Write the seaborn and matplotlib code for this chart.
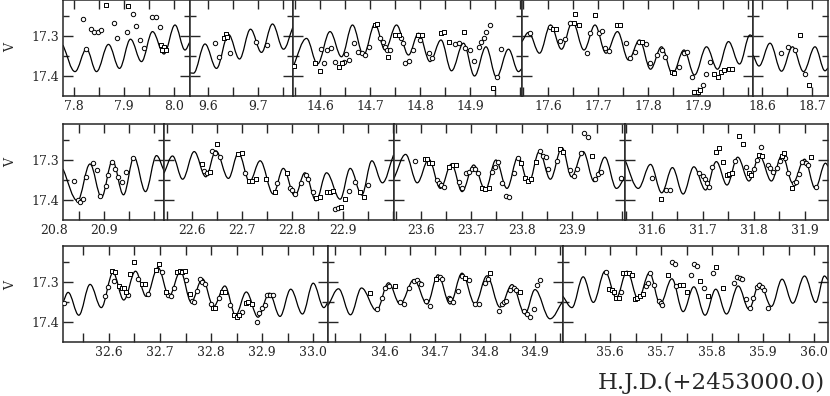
import numpy as np
import matplotlib
matplotlib.use("Agg")
import matplotlib.pyplot as plt
from matplotlib.path import Path
from matplotlib.patches import PathPatch
from matplotlib.ticker import FixedLocator, FuncFormatter
import seaborn as sns

# ---------------- data ----------------
# model light-curve extrema (time, V) per panel
curve_r1p1 = [(7.778, 17.3225), (7.802, 17.389), (7.825, 17.3325), (7.845, 17.389), (7.869, 17.321),
              (7.891, 17.381), (7.913, 17.308), (7.935, 17.364), (7.957, 17.289), (7.980, 17.345),
              (8.002, 17.2725), (8.022, 17.335), (8.032, 17.314)]
curve_r1p2 = [(9.564, 17.392), (9.571, 17.393), (9.594, 17.320), (9.617, 17.381), (9.641, 17.296),
              (9.663, 17.3575), (9.685, 17.283), (9.707, 17.341), (9.729, 17.270), (9.751, 17.333),
              (9.770, 17.277)]
curve_r1p3 = [(14.546, 17.377), (14.573, 17.306), (14.595, 17.370), (14.620, 17.289), (14.643, 17.352),
              (14.665, 17.2725), (14.687, 17.3475), (14.710, 17.270), (14.730, 17.335), (14.753, 17.2725),
              (14.777, 17.3475), (14.797, 17.293), (14.820, 17.364), (14.842, 17.310), (14.863, 17.387),
              (14.887, 17.318), (14.909, 17.400), (14.932, 17.327), (14.953, 17.403), (14.977, 17.333),
              (14.997, 17.389), (15.004, 17.381)]
curve_r1p4 = [(17.548, 17.314), (17.561, 17.291), (17.583, 17.343), (17.605, 17.2725), (17.627, 17.333),
              (17.649, 17.264), (17.672, 17.335), (17.694, 17.2725), (17.716, 17.343), (17.739, 17.289),
              (17.761, 17.360), (17.783, 17.310), (17.805, 17.383), (17.827, 17.327), (17.849, 17.395),
              (17.872, 17.335), (17.893, 17.3975), (17.917, 17.327), (17.939, 17.383), (17.961, 17.314),
              (17.983, 17.370), (18.004, 17.2975), (18.010, 17.302)]
curve_r1p5 = [(18.582, 17.3475), (18.594, 17.375), (18.616, 17.318), (18.639, 17.388), (18.661, 17.327),
              (18.683, 17.389), (18.706, 17.327), (18.726, 17.387), (18.732, 17.380)]
curve_r2p1 = [(20.818, 17.3225), (20.847, 17.402), (20.872, 17.310), (20.895, 17.393), (20.917, 17.302),
              (20.939, 17.387), (20.960, 17.293), (20.983, 17.379), (21.005, 17.289), (21.020, 17.327)]
curve_r2p2 = [(22.545, 17.333), (22.562, 17.290), (22.582, 17.348), (22.605, 17.279), (22.628, 17.342),
              (22.648, 17.277), (22.673, 17.346), (22.693, 17.282), (22.715, 17.354), (22.736, 17.302),
              (22.762, 17.385), (22.782, 17.321), (22.805, 17.390), (22.825, 17.332), (22.847, 17.402),
              (22.868, 17.332), (22.895, 17.398), (22.915, 17.321), (22.938, 17.3875), (22.958, 17.302),
              (22.979, 17.357), (23.001, 17.2875)]
curve_r2p3 = [(23.547, 17.346), (23.570, 17.286), (23.593, 17.357), (23.616, 17.298), (23.639, 17.371),
              (23.661, 17.310), (23.682, 17.379), (23.705, 17.3125), (23.728, 17.375), (23.749, 17.300),
              (23.771, 17.371), (23.793, 17.292), (23.814, 17.358), (23.835, 17.279), (23.857, 17.348),
              (23.880, 17.269), (23.899, 17.342), (23.922, 17.279), (23.944, 17.354), (23.965, 17.293),
              (23.988, 17.371), (24.005, 17.342)]
curve_r2p4 = [(31.548, 17.300), (31.574, 17.371), (31.598, 17.311), (31.620, 17.382), (31.641, 17.319),
              (31.662, 17.385), (31.683, 17.317), (31.706, 17.375), (31.727, 17.304), (31.748, 17.3625),
              (31.769, 17.293), (31.791, 17.3525), (31.812, 17.290), (31.835, 17.3525), (31.856, 17.2875),
              (31.877, 17.358), (31.900, 17.298), (31.921, 17.371), (31.941, 17.308), (31.947, 17.317)]
curve_r3p1 = [(32.510, 17.351), (32.520, 17.326), (32.541, 17.383), (32.563, 17.306), (32.585, 17.364),
              (32.608, 17.277), (32.629, 17.345), (32.652, 17.273), (32.673, 17.336), (32.696, 17.264),
              (32.718, 17.335), (32.740, 17.273), (32.761, 17.350), (32.783, 17.292), (32.805, 17.361),
              (32.827, 17.310), (32.848, 17.383), (32.869, 17.325), (32.892, 17.388), (32.914, 17.328),
              (32.935, 17.386), (32.956, 17.318), (32.979, 17.380), (33.000, 17.303), (33.021, 17.364),
              (33.029, 17.350)]
curve_r3p2 = [(34.486, 17.359), (34.507, 17.317), (34.531, 17.382), (34.553, 17.315), (34.583, 17.3715),
              (34.607, 17.302), (34.630, 17.355), (34.658, 17.294), (34.684, 17.355), (34.706, 17.282),
              (34.730, 17.355), (34.754, 17.278), (34.780, 17.355), (34.804, 17.2845), (34.830, 17.363),
              (34.854, 17.3065), (34.880, 17.380), (34.900, 17.319), (34.930, 17.392), (34.956, 17.347)]
curve_r3p3 = [(35.507, 17.335), (35.525, 17.364), (35.547, 17.287), (35.567, 17.351), (35.590, 17.273),
              (35.612, 17.339), (35.633, 17.273), (35.655, 17.343), (35.677, 17.277), (35.698, 17.355),
              (35.721, 17.292), (35.743, 17.374), (35.764, 17.312), (35.786, 17.383), (35.807, 17.318),
              (35.828, 17.380), (35.851, 17.310), (35.872, 17.368), (35.893, 17.303), (35.916, 17.361),
              (35.937, 17.293), (35.958, 17.353), (35.981, 17.285), (36.003, 17.351), (36.020, 17.285),
              (36.027, 17.295)]

# observations (time, V, marker: 'o' circle / 's' square)
obs_r1p1 = [(7.817, 17.258, 'o'), (7.864, 17.222, 's'), (7.907, 17.224, 's'), (7.917, 17.245, 'o'),
            (7.955, 17.252, 'o'), (7.964, 17.252, 'o'), (7.879, 17.267, 'o'), (7.834, 17.283, 'o'),
            (7.840, 17.289, 'o'), (7.847, 17.289, 'o'), (7.853, 17.285, 'o'), (7.905, 17.289, 'o'),
            (7.924, 17.275, 'o'), (7.885, 17.306, 'o'), (7.932, 17.310, 'o'), (7.939, 17.331, 'o'),
            (7.971, 17.278, 'o'), (7.974, 17.3225, 's'), (7.979, 17.328, 's'), (7.975, 17.335, 's'),
            (7.983, 17.335, 's'), (7.824, 17.332, 'o')]
obs_r1p2 = [(9.614, 17.318, 'o'), (9.621, 17.353, 'o'), (9.631, 17.306, 's'), (9.636, 17.296, 's'),
            (9.639, 17.303, 's'), (9.644, 17.343, 'o'), (9.697, 17.314, 'o'), (9.717, 17.3225, 'o')]
obs_r1p3 = [(14.548, 17.375, 's'), (14.590, 17.368, 's'), (14.600, 17.387, 's'), (14.607, 17.368, 'o'),
            (14.602, 17.3325, 'o'), (14.613, 17.335, 'o'), (14.622, 17.331, 'o'), (14.630, 17.364, 'o'),
            (14.638, 17.377, 's'), (14.643, 17.368, 's'), (14.648, 17.364, 'o'), (14.658, 17.360, 'o'),
            (14.652, 17.345, 'o'), (14.667, 17.317, 'o'), (14.675, 17.339, 'o'), (14.683, 17.342, 'o'),
            (14.690, 17.3475, 'o'), (14.697, 17.327, 'o'), (14.709, 17.2725, 's'), (14.713, 17.270, 's'),
            (14.720, 17.306, 'o'), (14.725, 17.314, 'o'), (14.730, 17.327, 'o'), (14.733, 17.335, 'o'),
            (14.740, 17.335, 'o'), (14.735, 17.352, 's'), (14.750, 17.2975, 's'), (14.757, 17.2975, 's'),
            (14.761, 17.306, 'o'), (14.765, 17.317, 'o'), (14.770, 17.368, 'o'), (14.777, 17.362, 'o'),
            (14.785, 17.335, 'o'), (14.795, 17.2975, 's'), (14.803, 17.2975, 's'), (14.800, 17.310, 'o'),
            (14.817, 17.343, 'o'), (14.823, 17.356, 'o'), (14.842, 17.293, 's'), (14.847, 17.291, 's'),
            (14.857, 17.314, 's'), (14.870, 17.320, 'o'), (14.877, 17.317, 'o'), (14.887, 17.289, 's'),
            (14.890, 17.331, 'o'), (14.900, 17.335, 'o'), (14.908, 17.362, 'o'), (14.917, 17.327, 'o'),
            (14.922, 17.314, 'o'), (14.928, 17.306, 'o'), (14.932, 17.289, 'o'), (14.939, 17.2725, 'o'),
            (14.953, 17.402, 'o'), (14.945, 17.431, 's'), (14.961, 17.333, 'o')]
obs_r1p4 = [(17.563, 17.293, 'o'), (17.604, 17.277, 'o'), (17.609, 17.283, 's'), (17.615, 17.283, 's'),
            (17.624, 17.312, 'o'), (17.634, 17.308, 'o'), (17.644, 17.267, 'o'), (17.652, 17.268, 's'),
            (17.661, 17.2725, 's'), (17.654, 17.245, 's'), (17.694, 17.2475, 's'), (17.677, 17.343, 'o'),
            (17.684, 17.293, 'o'), (17.701, 17.293, 'o'), (17.707, 17.287, 'o'), (17.714, 17.331, 'o'),
            (17.721, 17.337, 'o'), (17.737, 17.2725, 's'), (17.743, 17.2725, 's'), (17.756, 17.317, 'o'),
            (17.763, 17.356, 'o'), (17.774, 17.339, 'o'), (17.781, 17.314, 'o'), (17.787, 17.314, 's'),
            (17.796, 17.321, 'o'), (17.804, 17.367, 'o'), (17.817, 17.3475, 'o'), (17.827, 17.335, 'o'),
            (17.834, 17.352, 'o'), (17.847, 17.389, 's'), (17.852, 17.392, 's'), (17.861, 17.377, 'o'),
            (17.871, 17.343, 'o'), (17.877, 17.339, 'o'), (17.887, 17.403, 'o'), (17.892, 17.439, 's'),
            (17.899, 17.439, 's'), (17.904, 17.435, 's'), (17.909, 17.4225, 'o'), (17.924, 17.364, 'o'),
            (17.916, 17.395, 'o'), (17.932, 17.395, 's'), (17.939, 17.402, 's'), (17.945, 17.389, 's'),
            (17.952, 17.385, 's'), (17.961, 17.383, 's'), (17.967, 17.383, 's')]
obs_r1p5 = [(18.675, 17.2975, 's'), (18.637, 17.342, 'o'), (18.651, 17.328, 'o'), (18.666, 17.335, 'o'),
            (18.686, 17.395, 'o'), (18.693, 17.4225, 's')]
obs_r2p1 = [(20.840, 17.352, 'o'), (20.847, 17.399, 'o'), (20.852, 17.404, 'o'), (20.857, 17.3975, 'o'),
            (20.864, 17.343, 'o'), (20.877, 17.308, 'o'), (20.885, 17.325, 'o'), (20.892, 17.389, 'o'),
            (20.904, 17.364, 'o'), (20.907, 17.3375, 'o'), (20.915, 17.304, 'o'), (20.922, 17.3225, 'o'),
            (20.927, 17.343, 'o'), (20.935, 17.356, 'o'), (20.944, 17.331, 'o'), (20.957, 17.296, 'o')]
obs_r2p2 = [(22.620, 17.311, 's'), (22.625, 17.327, 'o'), (22.630, 17.333, 'o'), (22.636, 17.329, 's'),
            (22.641, 17.277, 'o'), (22.646, 17.283, 'o'), (22.650, 17.260, 's'), (22.656, 17.293, 'o'),
            (22.693, 17.285, 's'), (22.699, 17.282, 's'), (22.706, 17.333, 'o'), (22.713, 17.352, 's'),
            (22.719, 17.3525, 's'), (22.728, 17.348, 's'), (22.748, 17.348, 's'), (22.766, 17.379, 's'),
            (22.770, 17.358, 'o'), (22.789, 17.333, 's'), (22.795, 17.371, 'o'), (22.800, 17.375, 'o'),
            (22.805, 17.385, 'o'), (22.817, 17.358, 'o'), (22.827, 17.3375, 'o'), (22.832, 17.348, 'o'),
            (22.842, 17.379, 'o'), (22.848, 17.396, 's'), (22.855, 17.392, 's'), (22.868, 17.379, 's'),
            (22.875, 17.379, 's'), (22.880, 17.377, 's'), (22.885, 17.423, 'o'), (22.891, 17.421, 'o'),
            (22.896, 17.418, 's'), (22.905, 17.398, 's'), (22.913, 17.377, 'o'), (22.925, 17.354, 'o'),
            (22.934, 17.379, 's'), (22.942, 17.393, 's'), (22.951, 17.3625, 'o')]
obs_r2p3 = [(23.589, 17.302, 'o'), (23.609, 17.298, 's'), (23.613, 17.298, 's'), (23.616, 17.308, 's'),
            (23.622, 17.308, 's'), (23.633, 17.350, 'o'), (23.636, 17.358, 'o'), (23.641, 17.3625, 'o'),
            (23.647, 17.367, 'o'), (23.657, 17.317, 's'), (23.664, 17.3125, 's'), (23.669, 17.3125, 's'),
            (23.676, 17.354, 'o'), (23.681, 17.371, 'o'), (23.690, 17.333, 'o'), (23.695, 17.329, 'o'),
            (23.701, 17.323, 'o'), (23.707, 17.323, 'o'), (23.713, 17.333, 'o'), (23.722, 17.371, 's'),
            (23.728, 17.3725, 's'), (23.735, 17.371, 's'), (23.741, 17.329, 'o'), (23.748, 17.317, 'o'),
            (23.753, 17.304, 'o'), (23.761, 17.358, 'o'), (23.769, 17.390, 'o'), (23.776, 17.393, 'o'),
            (23.784, 17.333, 'o'), (23.793, 17.296, 'o'), (23.799, 17.307, 's'), (23.807, 17.346, 's'),
            (23.813, 17.352, 's'), (23.819, 17.348, 's'), (23.829, 17.304, 's'), (23.837, 17.277, 'o'),
            (23.843, 17.290, 'o'), (23.848, 17.293, 'o'), (23.852, 17.323, 'o'), (23.870, 17.302, 'o'),
            (23.876, 17.273, 's'), (23.883, 17.279, 's'), (23.896, 17.325, 'o'), (23.903, 17.340, 'o'),
            (23.909, 17.323, 'o'), (23.918, 17.283, 'o'), (23.924, 17.233, 'o'), (23.932, 17.242, 'o'),
            (23.940, 17.290, 's'), (23.945, 17.348, 'o'), (23.952, 17.335, 'o'), (23.957, 17.329, 'o'),
            (23.998, 17.346, 'o')]
obs_r2p4 = [(31.600, 17.346, 'o'), (31.618, 17.398, 's'), (31.629, 17.375, 'o'), (31.636, 17.375, 'o'),
            (31.694, 17.332, 'o'), (31.700, 17.340, 'o'), (31.704, 17.348, 'o'), (31.709, 17.358, 'o'),
            (31.713, 17.367, 'o'), (31.719, 17.317, 'o'), (31.726, 17.279, 's'), (31.732, 17.271, 's'),
            (31.741, 17.304, 's'), (31.747, 17.3375, 's'), (31.752, 17.335, 's'), (31.758, 17.332, 's'),
            (31.764, 17.302, 'o'), (31.771, 17.240, 's'), (31.780, 17.260, 's'), (31.786, 17.317, 'o'),
            (31.792, 17.333, 's'), (31.796, 17.338, 's'), (31.801, 17.323, 'o'), (31.807, 17.300, 'o'),
            (31.810, 17.2875, 's'), (31.817, 17.290, 's'), (31.815, 17.268, 'o'), (31.828, 17.3125, 'o'),
            (31.833, 17.321, 'o'), (31.838, 17.329, 'o'), (31.846, 17.321, 'o'), (31.851, 17.302, 'o'),
            (31.855, 17.290, 's'), (31.859, 17.283, 's'), (31.862, 17.296, 'o'), (31.867, 17.333, 'o'),
            (31.875, 17.371, 's'), (31.879, 17.357, 'o'), (31.883, 17.354, 'o'), (31.890, 17.335, 'o'),
            (31.896, 17.304, 'o'), (31.902, 17.308, 'o'), (31.907, 17.3125, 'o'), (31.913, 17.293, 's'),
            (31.922, 17.368, 'o')]
obs_r3p1 = [(32.511, 17.353, 'o'), (32.592, 17.335, 'o'), (32.598, 17.312, 'o'), (32.605, 17.273, 's'),
            (32.611, 17.275, 's'), (32.609, 17.2975, 'o'), (32.620, 17.310, 's'), (32.625, 17.314, 's'),
            (32.630, 17.314, 's'), (32.634, 17.326, 's'), (32.638, 17.333, 'o'), (32.642, 17.281, 's'),
            (32.650, 17.250, 's'), (32.657, 17.293, 'o'), (32.665, 17.306, 's'), (32.671, 17.306, 's'),
            (32.676, 17.331, 'o'), (32.693, 17.269, 's'), (32.698, 17.254, 's'), (32.703, 17.275, 'o'),
            (32.711, 17.325, 's'), (32.716, 17.333, 'o'), (32.722, 17.335, 'o'), (32.727, 17.314, 'o'),
            (32.733, 17.275, 's'), (32.739, 17.273, 's'), (32.744, 17.275, 's'), (32.748, 17.273, 's'),
            (32.750, 17.295, 'o'), (32.758, 17.331, 's'), (32.763, 17.347, 'o'), (32.767, 17.350, 'o'),
            (32.773, 17.322, 'o'), (32.778, 17.292, 'o'), (32.783, 17.300, 'o'), (32.788, 17.306, 'o'),
            (32.799, 17.355, 'o'), (32.804, 17.364, 's'), (32.808, 17.364, 's'), (32.816, 17.339, 'o'),
            (32.821, 17.326, 's'), (32.827, 17.326, 's'), (32.838, 17.358, 'o'), (32.844, 17.383, 's'),
            (32.850, 17.388, 's'), (32.855, 17.383, 's'), (32.860, 17.376, 'o'), (32.868, 17.353, 's'),
            (32.873, 17.351, 's'), (32.880, 17.355, 's'), (32.890, 17.401, 'o'), (32.894, 17.378, 'o'),
            (32.899, 17.366, 'o'), (32.905, 17.358, 'o'), (32.910, 17.333, 'o'), (32.916, 17.333, 'o'),
            (32.922, 17.333, 'o')]
obs_r3p2 = [(34.570, 17.327, 's'), (34.583, 17.3675, 'o'), (34.593, 17.339, 'o'), (34.600, 17.3145, 'o'),
            (34.607, 17.3105, 'o'), (34.620, 17.3105, 's'), (34.630, 17.350, 'o'), (34.637, 17.355, 'o'),
            (34.647, 17.3145, 'o'), (34.657, 17.298, 'o'), (34.663, 17.296, 'o'), (34.667, 17.302, 'o'),
            (34.671, 17.306, 'o'), (34.682, 17.347, 'o'), (34.690, 17.359, 'o'), (34.702, 17.293, 's'),
            (34.709, 17.288, 'o'), (34.713, 17.293, 'o'), (34.728, 17.339, 'o'), (34.730, 17.343, 'o'),
            (34.735, 17.351, 'o'), (34.745, 17.323, 'o'), (34.753, 17.286, 'o'), (34.760, 17.290, 's'),
            (34.767, 17.294, 'o'), (34.780, 17.355, 'o'), (34.787, 17.355, 'o'), (34.800, 17.302, 'o'),
            (34.805, 17.293, 'o'), (34.810, 17.2765, 's'), (34.827, 17.3715, 'o'), (34.833, 17.355, 'o'),
            (34.838, 17.350, 'o'), (34.842, 17.347, 'o'), (34.850, 17.319, 'o'), (34.857, 17.3145, 'o'),
            (34.862, 17.320, 'o'), (34.869, 17.325, 's'), (34.877, 17.3715, 'o'), (34.883, 17.380, 'o'),
            (34.889, 17.388, 'o'), (34.897, 17.3675, 'o'), (34.903, 17.3065, 'o'), (34.910, 17.296, 'o')]
obs_r3p3 = [(35.592, 17.275, 'o'), (35.597, 17.318, 's'), (35.603, 17.320, 's'), (35.608, 17.325, 's'),
            (35.612, 17.339, 's'), (35.617, 17.339, 's'), (35.621, 17.325, 'o'), (35.626, 17.2785, 's'),
            (35.631, 17.2785, 's'), (35.636, 17.2785, 's'), (35.643, 17.2835, 's'), (35.649, 17.343, 's'),
            (35.653, 17.339, 's'), (35.659, 17.335, 's'), (35.664, 17.331, 's'), (35.670, 17.310, 'o'),
            (35.675, 17.303, 'o'), (35.679, 17.2785, 'o'), (35.686, 17.308, 'o'), (35.695, 17.347, 'o'),
            (35.699, 17.353, 'o'), (35.702, 17.358, 'o'), (35.714, 17.2835, 's'), (35.721, 17.250, 'o'),
            (35.727, 17.256, 'o'), (35.730, 17.310, 'o'), (35.737, 17.308, 's'), (35.743, 17.308, 's'),
            (35.750, 17.325, 's'), (35.758, 17.2835, 'o'), (35.764, 17.256, 'o'), (35.771, 17.259, 'o'),
            (35.777, 17.2975, 's'), (35.784, 17.314, 'o'), (35.792, 17.336, 's'), (35.802, 17.2785, 'o'),
            (35.807, 17.262, 's'), (35.821, 17.314, 's'), (35.842, 17.303, 'o'), (35.849, 17.287, 'o'),
            (35.854, 17.289, 'o'), (35.858, 17.293, 'o'), (35.867, 17.343, 'o'), (35.874, 17.366, 'o'),
            (35.880, 17.339, 'o'), (35.887, 17.312, 'o'), (35.892, 17.308, 'o'), (35.897, 17.312, 'o'),
            (35.902, 17.320, 'o'), (35.910, 17.364, 'o')]

# x tick labels shown under each panel
labels_r1 = [[7.8, 7.9, 8.0], [9.6, 9.7], [14.6, 14.7, 14.8, 14.9], [17.6, 17.7, 17.8, 17.9], [18.6, 18.7]]
labels_r2 = [[20.8, 20.9], [22.6, 22.7, 22.8, 22.9], [23.6, 23.7, 23.8, 23.9], [31.6, 31.7, 31.8, 31.9]]
labels_r3 = [[32.6, 32.7, 32.8, 32.9, 33.0], [34.6, 34.7, 34.8, 34.9], [35.6, 35.7, 35.8, 35.9, 36.0]]
y_labels = [17.3, 17.4]
x_title = "H.J.D.(+2453000.0)"
y_title = "V"

# ---------------- layout (pixels) ----------------
W, H = 830, 396
row_px = [(0.0, 96.0), (124.0, 220.0), (246.0, 342.0)]
ylim = (17.45, 17.21)
panels = [
    # row, left px, right px, x-limits, curve, obs, labels
    (0, 63, 190, (7.778, 8.032), curve_r1p1, obs_r1p1, labels_r1[0]),
    (0, 190, 293, (9.564, 9.770), curve_r1p2, obs_r1p2, labels_r1[1]),
    (0, 293, 522, (14.546, 15.004), curve_r1p3, obs_r1p3, labels_r1[2]),
    (0, 522, 753, (17.548, 18.010), curve_r1p4, obs_r1p4, labels_r1[3]),
    (0, 753, 828, (18.582, 18.732), curve_r1p5, obs_r1p5, labels_r1[4]),
    (1, 63, 164, (20.818, 21.020), curve_r2p1, obs_r2p1, labels_r2[0]),
    (1, 164, 394, (22.545, 23.002), curve_r2p2, obs_r2p2, labels_r2[1]),
    (1, 394, 625, (23.547, 24.005), curve_r2p3, obs_r2p3, labels_r2[2]),
    (1, 625, 828, (31.548, 31.946), curve_r2p4, obs_r2p4, labels_r2[3]),
    (2, 63, 328, (32.510, 33.029), curve_r3p1, obs_r3p1, labels_r3[0]),
    (2, 328, 563, (34.486, 34.956), curve_r3p2, obs_r3p2, labels_r3[1]),
    (2, 563, 828, (35.5075, 36.027), curve_r3p3, obs_r3p3, labels_r3[2]),
]

sns.set_style("ticks")
plt.rcParams["font.family"] = ["DejaVu Serif", "DejaVu Sans"]
plt.rcParams["axes.linewidth"] = 1.1

fig = plt.figure(figsize=(W / 100, H / 100), dpi=100)


def smooth_path(points):
    """Bezier path through the read extrema with horizontal tangents at turning points."""
    t = np.array([p[0] for p in points])
    v = np.array([p[1] for p in points])
    n = len(t)
    slope = np.zeros(n)
    for i in range(n):
        if i == 0:
            slope[i] = (v[1] - v[0]) / (t[1] - t[0])
        elif i == n - 1:
            slope[i] = (v[-1] - v[-2]) / (t[-1] - t[-2])
        elif (v[i] - v[i - 1]) * (v[i + 1] - v[i]) < 0:
            slope[i] = 0.0
        else:
            slope[i] = (v[i + 1] - v[i - 1]) / (t[i + 1] - t[i - 1])
    a = 0.363
    verts = [(t[0], v[0])]
    codes = [Path.MOVETO]
    for i in range(n - 1):
        d = t[i + 1] - t[i]
        verts += [(t[i] + a * d, v[i] + slope[i] * a * d),
                  (t[i + 1] - a * d, v[i + 1] - slope[i + 1] * a * d),
                  (t[i + 1], v[i + 1])]
        codes += [Path.CURVE4] * 3
    return Path(verts, codes)


first_in_row = set()
for row, lpx, rpx, xl, curve, obs, labs in panels:
    top, bot = row_px[row]
    ax = fig.add_axes([lpx / W, 1 - bot / H, (rpx - lpx) / W, (bot - top) / H])
    ax.set_xlim(*xl)
    ax.set_ylim(*ylim)

    # model curve
    ax.add_patch(PathPatch(smooth_path(curve), fill=False, edgecolor="black", lw=0.9, zorder=2))

    # observations
    ot = np.array([o[0] for o in obs])
    ov = np.array([o[1] for o in obs])
    ok = np.array([o[2] for o in obs])
    for mk, size in (("o", 10), ("s", 8)):
        m = ok == mk
        if m.any():
            sns.scatterplot(x=ot[m], y=ov[m], marker=mk, s=size, color="white",
                            edgecolor="black", linewidth=0.7, ax=ax, zorder=3, legend=False)

    # x ticks every 0.05 day, labels only where the reference shows them
    start = np.ceil(xl[0] / 0.05 - 1e-6) * 0.05
    xt = np.arange(start, xl[1] + 1e-9, 0.05)
    ax.xaxis.set_major_locator(FixedLocator(xt))
    labset = [round(l, 2) for l in labs]
    ax.xaxis.set_major_formatter(FuncFormatter(
        lambda x, pos, ls=labset: (f"{x:.1f}" if round(x, 2) in ls else "")))
    for l in labs:
        if l < xl[0]:
            ax.text(l, -0.045, f"{l:.1f}", transform=ax.get_xaxis_transform(),
                    ha="center", va="top", fontsize=9, clip_on=False)
    ax.tick_params(axis="x", which="major", direction="in", top=True, bottom=True,
                   length=6.5, width=1.0, labelsize=9, pad=3)

    # y ticks
    ax.yaxis.set_major_locator(FixedLocator(y_labels))
    ax.yaxis.set_minor_locator(FixedLocator([17.25, 17.35]))
    ax.tick_params(axis="y", which="major", direction="in", left=True, right=True,
                   length=7.5, width=1.0, labelsize=9, pad=3)
    ax.tick_params(axis="y", which="minor", direction="in", left=True, right=True,
                   length=4, width=1.0)
    if row not in first_in_row:
        first_in_row.add(row)
        ax.set_yticklabels([f"{y:.1f}" for y in y_labels])
    else:
        ax.set_yticklabels([])
    ax.set_xlabel("")
    ax.set_ylabel("")
    for s in ax.spines.values():
        s.set_visible(True)
        s.set_linewidth(1.1)

# axis titles
for cy in (48, 163, 285):
    fig.text(11 / W, 1 - cy / H, y_title, rotation=90, ha="center", va="center", fontsize=9)
fig.text(711 / W, 1 - 383 / H, x_title, ha="center", va="center", fontsize=16.5)

fig.savefig("out.png", dpi=100)
